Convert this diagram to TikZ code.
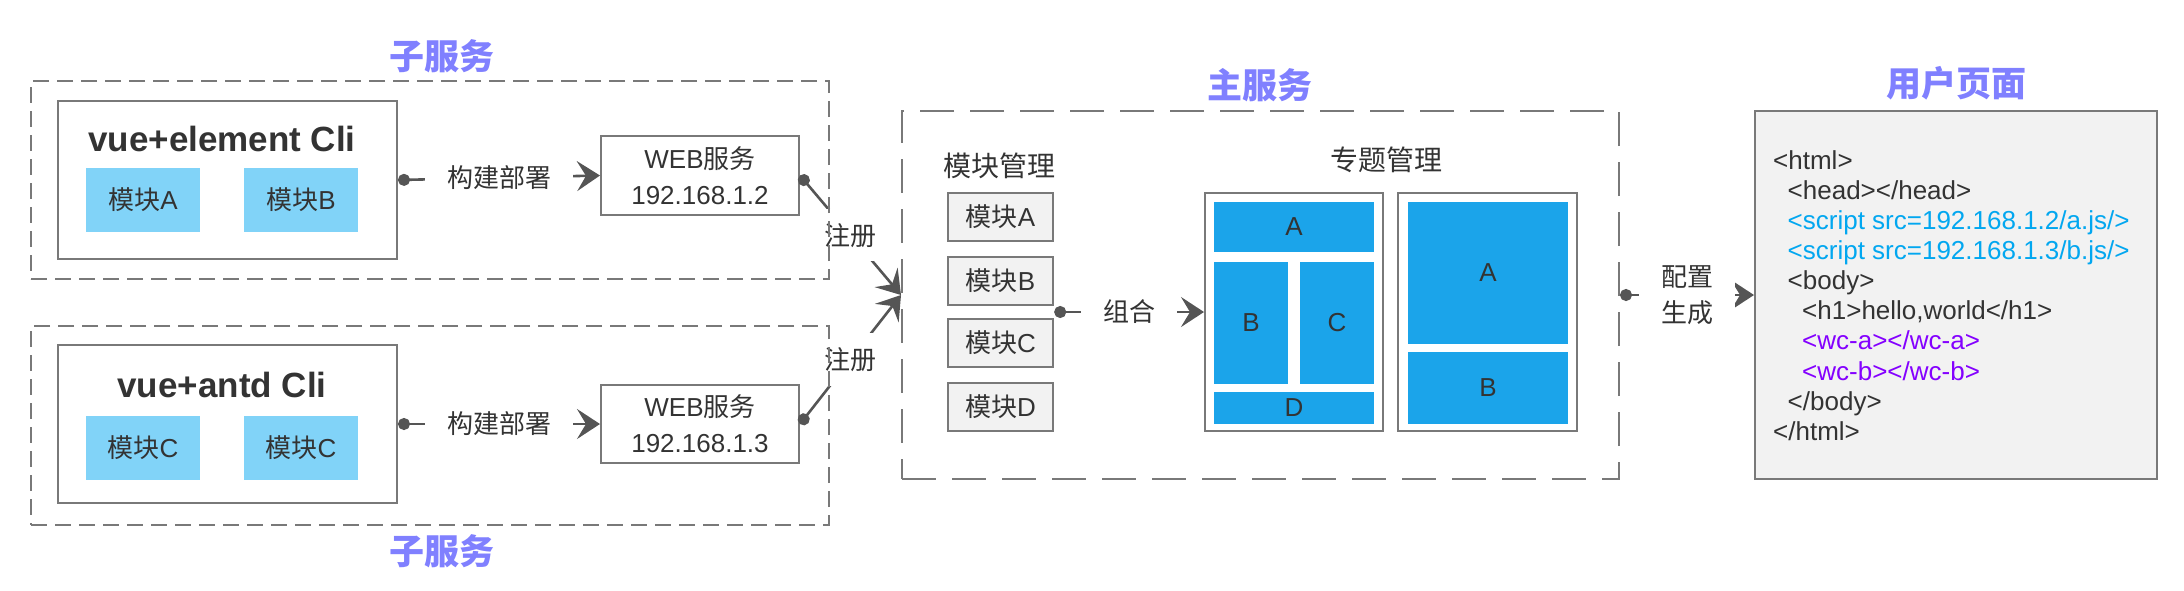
\documentclass[tikz,border=0pt]{standalone}
\usepackage{fontspec}
\usepackage{xcolor}
\usepackage{tikz}
\usetikzlibrary{arrows.meta,fit}
\setmainfont{Liberation Sans}
\newfontfamily\cjk{Noto Sans CJK SC}
\newcommand{\zh}[1]{{\cjk #1}}
\definecolor{textgray}{HTML}{333333}
\definecolor{linegray}{HTML}{797979}
\definecolor{conngray}{HTML}{555555}
\definecolor{titlepurple}{HTML}{8080FF}
\definecolor{lightblue}{HTML}{81D3F8}
\definecolor{panelblue}{HTML}{1BA4EA}
\definecolor{scriptblue}{HTML}{02A7F0}
\definecolor{tagpurple}{HTML}{8400FF}
\definecolor{pagegray}{HTML}{F2F2F2}
\tikzset{
	svctitle/.style={text=titlepurple, font=\cjk\bfseries\fontsize{35}{40}\selectfont},
	heading/.style={text=textgray, font=\cjk\fontsize{28}{32}\selectfont},
	subframe/.style={draw=linegray, line width=2pt, dash pattern=on 16pt off 8pt, minimum width=798pt, inner sep=0pt},
	mainframe/.style={draw=linegray, line width=2pt, dash pattern=on 34pt off 16pt, minimum width=717pt, minimum height=368pt, inner sep=0pt},
	clibox/.style={draw=linegray, line width=2pt, fill=white, minimum width=339pt, minimum height=158pt, inner sep=0pt},
	clititle/.style={text=textgray, font=\bfseries\fontsize{35}{40}\selectfont},
	lmod/.style={fill=lightblue, text=textgray, minimum width=114pt, minimum height=64pt, inner sep=0pt, font=\fontsize{26}{30}\selectfont},
	webbox/.style={draw=linegray, line width=2pt, fill=white, minimum width=198pt, minimum height=79pt, inner sep=0pt, align=center, text=textgray, font=\fontsize{26}{36}\selectfont},
	modbox/.style={draw=linegray, line width=2pt, fill=pagegray, minimum width=105pt, minimum height=48pt, inner sep=0pt, text=textgray, font=\fontsize{26}{30}\selectfont},
	panelbox/.style={draw=linegray, line width=2pt, fill=white, minimum height=238pt, inner sep=0pt},
	cell/.style={fill=panelblue, inner sep=0pt, text=textgray, font=\fontsize{26}{30}\selectfont},
	pagebox/.style={draw=linegray, line width=2pt, fill=pagegray, minimum width=402pt, minimum height=368pt, inner sep=0pt},
	code/.style={anchor=base west, inner sep=0pt, text=textgray, font=\fontsize{26}{30}\selectfont},
	conn/.style={draw=conngray, line width=2.6pt, arrows={Circle[length=12pt]-Stealth[length=23pt,width=30pt,inset=9pt]}},
	lbl/.style={fill=white, text=textgray, inner xsep=22pt, inner ysep=3pt, align=center, font=\cjk\fontsize{26}{36}\selectfont},
	reglbl/.style={lbl, inner xsep=0pt, inner ysep=14pt}
}

\begin{document}
\begin{tikzpicture}[x=1pt, y=-1pt]
	\useasboundingbox (0,0) rectangle (2184,590);

	\node[mainframe] (main) at (1260.5,295) {};
	\node[svctitle] (maintitle) at (1260,85) {主服务};

	\node[clibox] (cli1) at (227.5,180) {};
	\node[clititle] (cli1title) at (222,139) {vue+element Cli};
	\node[lmod] (ma1) at (143,200) {\zh{模块}A};
	\node[lmod] (mb1) at (301,200) {\zh{模块}B};
	\node[webbox] (web1) at (700,175.5) {WEB\zh{服务}\\192.168.1.2};

	\node[clibox] (cli2) at (227.5,424) {};
	\node[clititle] (cli2title) at (222,385) {vue+antd Cli};
	\node[lmod] (mc1) at (143,448) {\zh{模块}C};
	\node[lmod] (mc2) at (301,448) {\zh{模块}C};
	\node[webbox, minimum height=78pt] (web2) at (700,424) {WEB\zh{服务}\\192.168.1.3};

	\node[heading] (modhead) at (999,166) {模块管理};
	\node[modbox] (mA) at (1000.5,217) {\zh{模块}A};
	\node[modbox] (mB) at (1000.5,280.5) {\zh{模块}B};
	\node[modbox] (mC) at (1000.5,343) {\zh{模块}C};
	\node[modbox] (mD) at (1000.5,407) {\zh{模块}D};
	\node[fit=(mA)(mD), inner sep=0pt] (mods) {};

	\node[heading] (tophead) at (1386,160) {专题管理};
	\node[panelbox, minimum width=178pt] (panel1) at (1294,312) {};
	\node[cell, minimum width=160pt, minimum height=50pt] (pa1) at (1294,227) {A};
	\node[cell, minimum width=74pt, minimum height=122pt] (pb1) at (1251,323) {B};
	\node[cell, minimum width=74pt, minimum height=122pt] (pc1) at (1337,323) {C};
	\node[cell, minimum width=160pt, minimum height=32pt] (pd1) at (1294,408) {D};
	\node[panelbox, minimum width=179pt] (panel2) at (1487.5,312) {};
	\node[cell, minimum width=160pt, minimum height=142pt] (pa2) at (1488,273) {A};
	\node[cell, minimum width=160pt, minimum height=72pt] (pb2) at (1488,388) {B};

	\node[pagebox] (page) at (1956,295) {};
	\node[svctitle] (pagetitle) at (1956,83) {用户页面};
	\node[code] (c0) at (1773,169.3) {<html>};
	\node[code] (c1) at (1787.5,199.4) {<head></head>};
	\node[code, text=scriptblue] (c2) at (1787.5,229.5) {<script src=192.168.1.2/a.js/>};
	\node[code, text=scriptblue] (c3) at (1787.5,259.6) {<script src=192.168.1.3/b.js/>};
	\node[code] (c4) at (1787.5,289.7) {<body>};
	\node[code] (c5) at (1802,319.8) {<h1>hello,world</h1>};
	\node[code, text=tagpurple] (c6) at (1802,349.9) {<wc-a></wc-a>};
	\node[code, text=tagpurple] (c7) at (1802,380) {<wc-b></wc-b>};
	\node[code] (c8) at (1787.5,410.1) {</body>};
	\node[code] (c9) at (1773,440.2) {</html>};

	\draw[conn] (cli1.east) to node[lbl]{构建部署} (web1.west);
	\draw[conn] (cli2.east) to node[lbl]{构建部署} (web2.west);
	\draw[conn] (web1.east) to node[reglbl]{注册} (main.west);
	\draw[conn] (web2.east) to node[reglbl]{注册} (main.west);
	\draw[conn] (mods.east) to node[lbl]{组合} (panel1.west);
	\draw[conn] (main.east) to node[lbl]{配置\\生成} (page.west);

	\node[subframe, minimum height=198pt] (sub1) at (430,180) {};
	\node[svctitle] (sub1title) at (442,56) {子服务};
	\node[subframe, minimum height=199pt] (sub2) at (430,425.5) {};
	\node[svctitle] (sub2title) at (442,551) {子服务};
\end{tikzpicture}
\end{document}
